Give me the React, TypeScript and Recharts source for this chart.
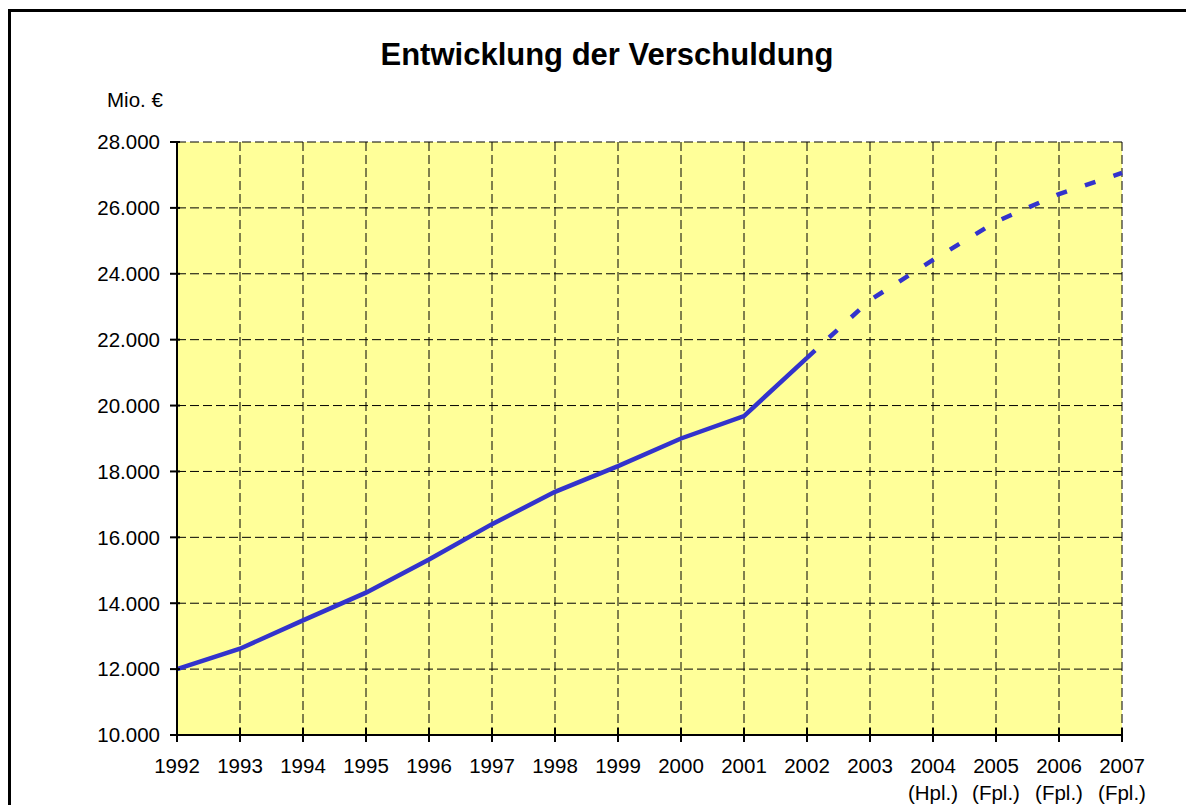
import React from "react";
import { LineChart, Line, XAxis, YAxis, CartesianGrid } from "recharts";

// Schuldenstand in Mio. €
const years = ["1992", "1993", "1994", "1995", "1996", "1997", "1998", "1999", "2000", "2001", "2002", "2003", "2004", "2005", "2006", "2007"];
const yearNotes = ["", "", "", "", "", "", "", "", "", "", "", "", "(Hpl.)", "(Fpl.)", "(Fpl.)", "(Fpl.)"];
const istValues = [12000, 12620, 13480, 14320, 15330, 16400, 17380, 18160, 19000, 19680, 21450, null, null, null, null, null];
const planValues = [null, null, null, null, null, null, null, null, null, null, 21450, 23200, 24420, 25580, 26420, 27060];
const yTicks = [10000, 12000, 14000, 16000, 18000, 20000, 22000, 24000, 26000, 28000];

const FONT = "'Liberation Sans', Arial, sans-serif";
const BLUE = "#3333CC";
const TICK_FONT = 20.5;

const data = years.map((year, i) => ({
  year,
  note: yearNotes[i],
  ist: istValues[i],
  plan: planValues[i],
}));

const formatDe = (v: number) => v.toString().replace(/\B(?=(\d{3})+(?!\d))/g, ".");

const YTick = (props: any) => {
  const { x, y, payload } = props;
  return (
    <g>
      <line x1={x + 10} x2={x + 20} y1={y} y2={y} stroke="#000" strokeWidth={2} />
      <text x={x} y={y} dy="0.36em" textAnchor="end" fontSize={TICK_FONT} fontFamily={FONT} fill="#000">
        {formatDe(payload.value)}
      </text>
    </g>
  );
};

const XTick = (props: any) => {
  const { x, y, payload, index } = props;
  const note = yearNotes[index] ?? "";
  return (
    <g>
      <line x1={x} x2={x} y1={y - 14} y2={y} stroke="#000" strokeWidth={2} />
      <text x={x} y={y + 31} textAnchor="middle" fontSize={TICK_FONT} fontFamily={FONT} fill="#000">
        {payload.value}
      </text>
      {note && (
        <text x={x} y={y + 58} textAnchor="middle" fontSize={TICK_FONT} fontFamily={FONT} fill="#000">
          {note}
        </text>
      )}
    </g>
  );
};

export default function App() {
  return (
    <div style={{ position: "fixed", left: 0, top: 0, width: 1186, height: 805, overflow: "hidden", background: "#fff" }}>
      <div
        style={{
          position: "absolute",
          left: 8,
          top: 9,
          width: 1220,
          height: 840,
          border: "3px solid #000",
        }}
      />
      <div style={{ position: "absolute", left: 0, top: 0 }}>
        <LineChart width={1186} height={805} data={data} margin={{ top: 142, right: 64, bottom: 0, left: 0 }}>
          <CartesianGrid stroke="#000" strokeDasharray="9 4" fill="#FFFF99" fillOpacity={1} />
          <XAxis
            dataKey="year"
            height={70}
            interval={0}
            tickLine={false}
            tickSize={7}
            tickMargin={0}
            axisLine={{ stroke: "#000", strokeWidth: 2 }}
            tick={<XTick />}
          />
          <YAxis
            width={177}
            domain={[10000, 28000]}
            ticks={yTicks}
            interval={0}
            tickLine={false}
            tickSize={7}
            tickMargin={10}
            axisLine={{ stroke: "#000", strokeWidth: 2 }}
            tick={<YTick />}
          />
          <Line
            type="linear"
            dataKey="ist"
            stroke={BLUE}
            strokeWidth={4.5}
            dot={false}
            isAnimationActive={false}
          />
          <Line
            type="linear"
            dataKey="plan"
            stroke={BLUE}
            strokeWidth={4.5}
            strokeDasharray="11 19"
            dot={false}
            isAnimationActive={false}
          />
        </LineChart>
      </div>
      <svg width={1186} height={805} style={{ position: "absolute", left: 0, top: 0, pointerEvents: "none" }}>
        <text x={607} y={65} textAnchor="middle" fontSize={31} fontWeight="bold" fontFamily={FONT} fill="#000">
          Entwicklung der Verschuldung
        </text>
        <text x={107} y={107} fontSize={TICK_FONT} fontFamily={FONT} fill="#000">
          Mio. €
        </text>
      </svg>
    </div>
  );
}
